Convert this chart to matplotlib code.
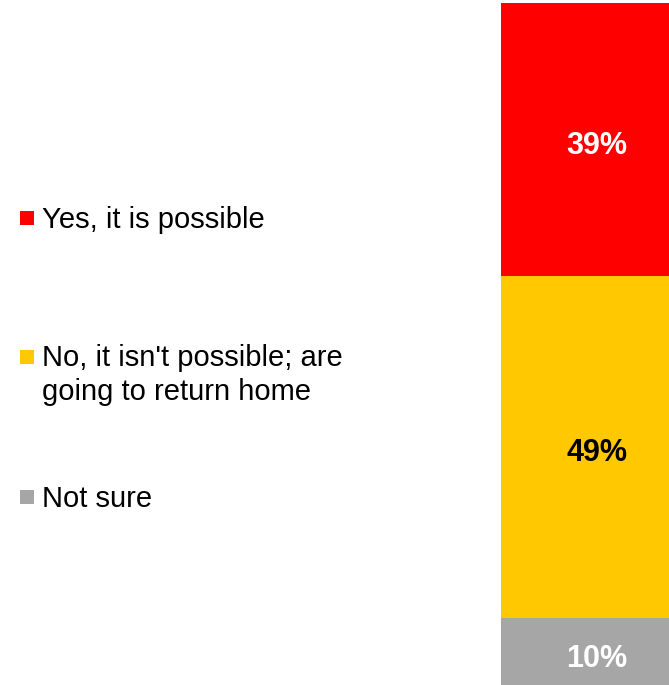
import matplotlib.pyplot as plt
from matplotlib.patches import Rectangle

plt.rcParams['font.family'] = ['Liberation Sans', 'DejaVu Sans']

# data, bottom to top of the bar
labels = ["Yes, it is possible", "No, it isn't possible; are\ngoing to return home", "Not sure"]
values = [39, 49, 10]
colors = ["#ff0000", "#ffc800", "#a6a6a6"]
text_colors = ["white", "black", "white"]

fig = plt.figure(figsize=(6.69, 6.85), dpi=100)
# bar runs off the right and bottom edge of the picture a little
ax = fig.add_axes([501 / 669, -3 / 685, 192 / 669, 685 / 685])

# stack from bottom: Not sure, No, Yes
bottom = 0
for lab, val, col, tc in reversed(list(zip(labels, values, colors, text_colors))):
    bars = ax.bar(0, val, bottom=bottom, width=1, color=col)
    anns = ax.bar_label(bars, labels=[f"{val}%"], label_type='center', color=tc,
                        fontsize=22, fontweight='bold')
    for a in anns:
        a.xyann = (0, -4.5)  # nudge down a bit
    bottom += val

ax.set_xlim(-0.5, 0.5)
ax.set_ylim(0, sum(values))
ax.axis('off')

# legend on the left, drawn by hand
# px from top: baseline of the first line (square) and of the last line (text)
first_base = [228, 367, 507]
last_base = [228, 400, 507]
for lab, col, y1, y2 in zip(labels, colors, first_base, last_base):
    fig.patches.append(Rectangle((20 / 669, 1 - (y1 - 3) / 685), 14 / 669, 14 / 685,
                                 facecolor=col, transform=fig.transFigure))
    fig.text(42 / 669, 1 - y2 / 685, lab, fontsize=21, va='baseline', ha='left',
             linespacing=1.26)

fig.savefig("out.png", dpi=100)
